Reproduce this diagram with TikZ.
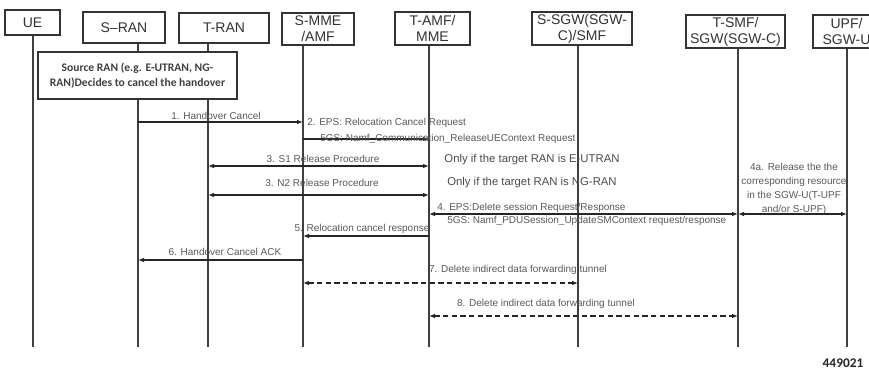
\documentclass[tikz,border=0pt]{standalone}
\usepackage{fontspec}
\setmainfont{Liberation Sans}
\newfontfamily\notefont{Carlito}
\usepackage{xcolor}
\usepackage{tikz}
\usetikzlibrary{arrows.meta, positioning}

\begin{document}
\begin{tikzpicture}[
    x=0.75pt, y=-0.75pt,
    entity/.style={rectangle, draw=black!80, line width=1.3pt, fill=white, align=center, inner sep=0pt, font=\fontsize{10.5}{12}\selectfont, text=black!80},
    lifeline/.style={draw=black!75, line width=1.1pt},
    notebox/.style={rectangle, draw=black!80, line width=1.3pt, fill=white, align=center, inner sep=0pt, font=\notefont\bfseries\fontsize{8.7}{11}\selectfont, text=black!75},
    msg/.style={-{Latex[length=4.5pt,width=3.5pt]}, line width=0.9pt, draw=black!85},
    twoway/.style={{Latex[length=4.5pt,width=3.5pt]}-{Latex[length=4.5pt,width=3.5pt]}, line width=0.9pt, draw=black!85},
    tunnel/.style={twoway, dash pattern=on 4pt off 2.5pt},
    msglabel/.style={font=\fontsize{7.5}{10.5}\selectfont, text=black!65, inner sep=0pt, align=center},
    condition/.style={font=\fontsize{8.5}{10}\selectfont, text=black!70, inner sep=0pt}
]
\fill[white] (0,0) rectangle (869,371);
\useasboundingbox (0,0) rectangle (869,371);

% Entities
\node[entity, minimum width=41.25pt, minimum height=18.75pt] (ue) at (32.5,22.5) {UE};
\node[entity, minimum width=61.5pt, minimum height=23.25pt] (sran) at (124,27.5) {S--RAN};
\node[entity, minimum width=67.5pt, minimum height=22.5pt] (tran) at (224,28) {T-RAN};
\node[entity, minimum width=54pt, minimum height=24pt] (smme) at (318,29) {S-MME\\/AMF};
\node[entity, minimum width=56.25pt, minimum height=24.75pt] (tamf) at (432.5,28.5) {T-AMF/\\MME};
\node[entity, minimum width=75pt, minimum height=24.75pt] (ssgw) at (582,28.5) {S-SGW(SGW-\\C)/SMF};
\node[entity, minimum width=74.25pt, minimum height=24.75pt] (tsmf) at (735.5,31.5) {T-SMF/\\SGW(SGW-C)};
\node[entity, minimum width=50.25pt, minimum height=24.75pt] (upf) at (846.5,31.5) {UPF/\\SGW-U};

% Lifeline positions
\coordinate (xue) at (33,0);
\coordinate (xsran) at (138,0);
\coordinate (xtran) at (208,0);
\coordinate (xsmme) at (303,0);
\coordinate (xtamf) at (429,0);
\coordinate (xssgw) at (578,0);
\coordinate (xtsmf) at (738,0);
\coordinate (xupf) at (847,0);
\coordinate (bottom) at (0,347);

% Lifelines
\draw[lifeline] (xue |- ue.south) -- (xue |- bottom);
\draw[lifeline] (xsran |- sran.south) -- (xsran |- bottom);
\draw[lifeline] (xtran |- tran.south) -- (xtran |- bottom);
\draw[lifeline] (xsmme |- smme.south) -- (xsmme |- bottom);
\draw[lifeline] (xtamf |- tamf.south) -- (xtamf |- bottom);
\draw[lifeline] (xssgw |- ssgw.south) -- (xssgw |- bottom);
\draw[lifeline] (xtsmf |- tsmf.south) -- (xtsmf |- bottom);
\draw[lifeline] (xupf |- upf.south) -- (xupf |- bottom);

% Decision note
\node[notebox, minimum width=149.25pt, minimum height=35.25pt] (note) at (137.5,75.5) {Source RAN (e.g. E-UTRAN, NG-\\RAN)Decides to cancel the handover};

% Message levels
\coordinate (m1) at (0,122);
\coordinate (m2) at (0,139);
\coordinate (m3) at (0,166);
\coordinate (m3b) at (0,195);
\coordinate (m4) at (0,214);
\coordinate (m5) at (0,236);
\coordinate (m6) at (0,260);
\coordinate (m7) at (0,283);
\coordinate (m8) at (0,316);

% Messages
\draw[msg] (xsran |- m1) -- (xsmme |- m1);
\draw[msg] (xsmme |- m2) -- (xtamf |- m2);
\draw[twoway] (xtran |- m3) -- (xtamf |- m3);
\draw[twoway] (xtran |- m3b) -- (xtamf |- m3b);
\draw[twoway] (xtamf |- m4) -- (xtsmf |- m4);
\draw[twoway] (xtsmf |- m4) -- (xupf |- m4);
\draw[msg] (xtamf |- m5) -- (xsmme |- m5);
\draw[msg] (xsmme |- m6) -- (xsran |- m6);
\draw[tunnel] (xsmme |- m7) -- (xssgw |- m7);
\draw[tunnel] (xtamf |- m8) -- (xtsmf |- m8);

% Labels
\node[msglabel] (l1) at (216,116) {1. Handover Cancel};
\node[msglabel, anchor=west] (l2a) at (307,123) {2. EPS: Relocation Cancel Request};
\node[msglabel, anchor=west] (l2b) at (320,139) {5GS: Namf\_Communication\_ReleaseUEContext Request};
\node[msglabel] (l3) at (323,159) {3. S1 Release Procedure};
\node[condition] (c3) at (532,160) {Only if the target RAN is E-UTRAN};
\node[msglabel] (l3b) at (322,183) {3. N2 Release Procedure};
\node[condition] (c3b) at (532,183) {Only if the target RAN is NG-RAN};
\node[msglabel, anchor=west] (l4a) at (437,208) {4. EPS:Delete session Request/Response};
\node[msglabel, anchor=west] (l4b) at (447,221) {5GS: Namf\_PDUSession\_UpdateSMContext request/response};
\node[msglabel] (l4x) at (794,189) {4a. Release the the\\corresponding resource\\in the SGW-U(T-UPF\\and/or S-UPF)};
\node[msglabel] (l5) at (362,229) {5. Relocation cancel response};
\node[msglabel] (l6) at (225,252) {6. Handover Cancel ACK};
\node[msglabel] (l7) at (518,270) {7. Delete indirect data forwarding tunnel};
\node[msglabel] (l8) at (546,304) {8. Delete indirect data forwarding tunnel};

% Figure number
\node[font=\notefont\bfseries\fontsize{10}{12}\selectfont, text=black!85] (figid) at (843,363) {449021};

\end{tikzpicture}
\end{document}
